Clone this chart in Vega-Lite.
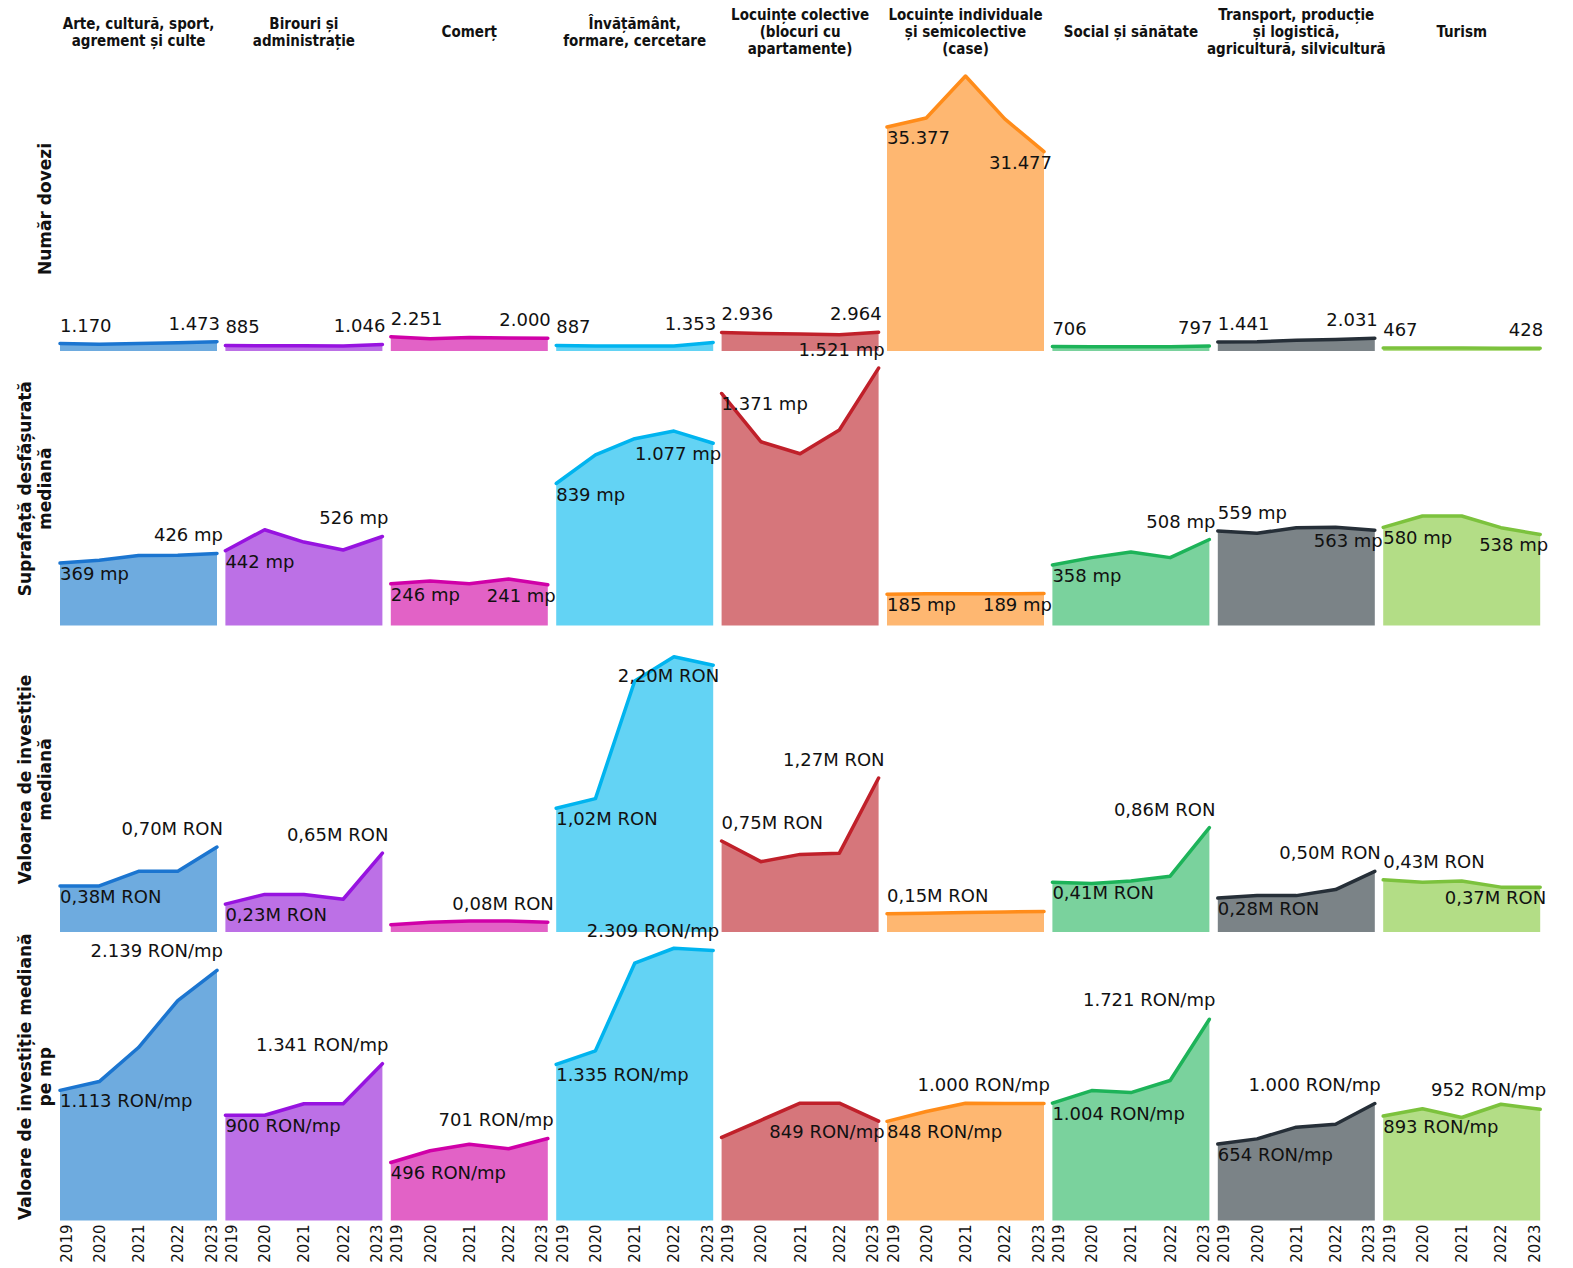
{
  "$schema": "https://vega.github.io/schema/vega-lite/v6.json",
  "background": "white",
  "padding": {"left": 15, "top": 8, "right": 5, "bottom": 0},
  "config": {
    "locale": {"number": {"decimal": ",", "thousands": ".", "grouping": [3], "currency": ["", ""]}},
    "view": {"stroke": null},
    "concat": {"spacing": -19.8},
    "facet": {"spacing": 8.4},
    "text": {"font": "DejaVu Sans", "fontSize": 18, "color": "#111111"},
    "axis": {"titleFont": "DejaVu Sans", "titleFontWeight": "bold", "titleFontSize": 17, "titleColor": "#111111", "titleLineHeight": 20, "titlePadding": 6}
  },
  "resolve": {"scale": {"y": "independent", "x": "independent"}},
  "datasets": {
    "dovezi": [
      {"cat": "Arte, cultură, sport,\nagrement și culte", "year": 2019, "value": 1170},
      {"cat": "Arte, cultură, sport,\nagrement și culte", "year": 2020, "value": 1070},
      {"cat": "Arte, cultură, sport,\nagrement și culte", "year": 2021, "value": 1200},
      {"cat": "Arte, cultură, sport,\nagrement și culte", "year": 2022, "value": 1300},
      {"cat": "Arte, cultură, sport,\nagrement și culte", "year": 2023, "value": 1473},
      {"cat": "Birouri și\nadministrație", "year": 2019, "value": 885},
      {"cat": "Birouri și\nadministrație", "year": 2020, "value": 820},
      {"cat": "Birouri și\nadministrație", "year": 2021, "value": 820},
      {"cat": "Birouri și\nadministrație", "year": 2022, "value": 800},
      {"cat": "Birouri și\nadministrație", "year": 2023, "value": 1046},
      {"cat": "Comerț", "year": 2019, "value": 2251},
      {"cat": "Comerț", "year": 2020, "value": 1950},
      {"cat": "Comerț", "year": 2021, "value": 2150},
      {"cat": "Comerț", "year": 2022, "value": 2050},
      {"cat": "Comerț", "year": 2023, "value": 2000},
      {"cat": "Învățământ,\nformare, cercetare", "year": 2019, "value": 887},
      {"cat": "Învățământ,\nformare, cercetare", "year": 2020, "value": 800},
      {"cat": "Învățământ,\nformare, cercetare", "year": 2021, "value": 800},
      {"cat": "Învățământ,\nformare, cercetare", "year": 2022, "value": 780},
      {"cat": "Învățământ,\nformare, cercetare", "year": 2023, "value": 1353},
      {"cat": "Locuințe colective\n(blocuri cu\napartamente)", "year": 2019, "value": 2936},
      {"cat": "Locuințe colective\n(blocuri cu\napartamente)", "year": 2020, "value": 2750},
      {"cat": "Locuințe colective\n(blocuri cu\napartamente)", "year": 2021, "value": 2700},
      {"cat": "Locuințe colective\n(blocuri cu\napartamente)", "year": 2022, "value": 2550},
      {"cat": "Locuințe colective\n(blocuri cu\napartamente)", "year": 2023, "value": 2964},
      {"cat": "Locuințe individuale\nși semicolective\n(case)", "year": 2019, "value": 35377},
      {"cat": "Locuințe individuale\nși semicolective\n(case)", "year": 2020, "value": 36800},
      {"cat": "Locuințe individuale\nși semicolective\n(case)", "year": 2021, "value": 43430},
      {"cat": "Locuințe individuale\nși semicolective\n(case)", "year": 2022, "value": 36650},
      {"cat": "Locuințe individuale\nși semicolective\n(case)", "year": 2023, "value": 31477},
      {"cat": "Social și sănătate", "year": 2019, "value": 706},
      {"cat": "Social și sănătate", "year": 2020, "value": 680},
      {"cat": "Social și sănătate", "year": 2021, "value": 670},
      {"cat": "Social și sănătate", "year": 2022, "value": 680},
      {"cat": "Social și sănătate", "year": 2023, "value": 797},
      {"cat": "Transport, producție\nși logistică,\nagricultură, silvicultură", "year": 2019, "value": 1441},
      {"cat": "Transport, producție\nși logistică,\nagricultură, silvicultură", "year": 2020, "value": 1450},
      {"cat": "Transport, producție\nși logistică,\nagricultură, silvicultură", "year": 2021, "value": 1700},
      {"cat": "Transport, producție\nși logistică,\nagricultură, silvicultură", "year": 2022, "value": 1800},
      {"cat": "Transport, producție\nși logistică,\nagricultură, silvicultură", "year": 2023, "value": 2031},
      {"cat": "Turism", "year": 2019, "value": 467},
      {"cat": "Turism", "year": 2020, "value": 460},
      {"cat": "Turism", "year": 2021, "value": 480},
      {"cat": "Turism", "year": 2022, "value": 450},
      {"cat": "Turism", "year": 2023, "value": 428}
    ],
    "suprafata": [
      {"cat": "Arte, cultură, sport,\nagrement și culte", "year": 2019, "value": 369},
      {"cat": "Arte, cultură, sport,\nagrement și culte", "year": 2020, "value": 385},
      {"cat": "Arte, cultură, sport,\nagrement și culte", "year": 2021, "value": 413},
      {"cat": "Arte, cultură, sport,\nagrement și culte", "year": 2022, "value": 415},
      {"cat": "Arte, cultură, sport,\nagrement și culte", "year": 2023, "value": 426},
      {"cat": "Birouri și\nadministrație", "year": 2019, "value": 442},
      {"cat": "Birouri și\nadministrație", "year": 2020, "value": 566},
      {"cat": "Birouri și\nadministrație", "year": 2021, "value": 493},
      {"cat": "Birouri și\nadministrație", "year": 2022, "value": 446},
      {"cat": "Birouri și\nadministrație", "year": 2023, "value": 526},
      {"cat": "Comerț", "year": 2019, "value": 246},
      {"cat": "Comerț", "year": 2020, "value": 263},
      {"cat": "Comerț", "year": 2021, "value": 247},
      {"cat": "Comerț", "year": 2022, "value": 275},
      {"cat": "Comerț", "year": 2023, "value": 241},
      {"cat": "Învățământ,\nformare, cercetare", "year": 2019, "value": 839},
      {"cat": "Învățământ,\nformare, cercetare", "year": 2020, "value": 1008},
      {"cat": "Învățământ,\nformare, cercetare", "year": 2021, "value": 1104},
      {"cat": "Învățământ,\nformare, cercetare", "year": 2022, "value": 1149},
      {"cat": "Învățământ,\nformare, cercetare", "year": 2023, "value": 1077},
      {"cat": "Locuințe colective\n(blocuri cu\napartamente)", "year": 2019, "value": 1371},
      {"cat": "Locuințe colective\n(blocuri cu\napartamente)", "year": 2020, "value": 1086},
      {"cat": "Locuințe colective\n(blocuri cu\napartamente)", "year": 2021, "value": 1015},
      {"cat": "Locuințe colective\n(blocuri cu\napartamente)", "year": 2022, "value": 1155},
      {"cat": "Locuințe colective\n(blocuri cu\napartamente)", "year": 2023, "value": 1521},
      {"cat": "Locuințe individuale\nși semicolective\n(case)", "year": 2019, "value": 185},
      {"cat": "Locuințe individuale\nși semicolective\n(case)", "year": 2020, "value": 187},
      {"cat": "Locuințe individuale\nși semicolective\n(case)", "year": 2021, "value": 187},
      {"cat": "Locuințe individuale\nși semicolective\n(case)", "year": 2022, "value": 188},
      {"cat": "Locuințe individuale\nși semicolective\n(case)", "year": 2023, "value": 189},
      {"cat": "Social și sănătate", "year": 2019, "value": 358},
      {"cat": "Social și sănătate", "year": 2020, "value": 401},
      {"cat": "Social și sănătate", "year": 2021, "value": 434},
      {"cat": "Social și sănătate", "year": 2022, "value": 401},
      {"cat": "Social și sănătate", "year": 2023, "value": 508},
      {"cat": "Transport, producție\nși logistică,\nagricultură, silvicultură", "year": 2019, "value": 559},
      {"cat": "Transport, producție\nși logistică,\nagricultură, silvicultură", "year": 2020, "value": 545},
      {"cat": "Transport, producție\nși logistică,\nagricultură, silvicultură", "year": 2021, "value": 578},
      {"cat": "Transport, producție\nși logistică,\nagricultură, silvicultură", "year": 2022, "value": 580},
      {"cat": "Transport, producție\nși logistică,\nagricultură, silvicultură", "year": 2023, "value": 563},
      {"cat": "Turism", "year": 2019, "value": 580},
      {"cat": "Turism", "year": 2020, "value": 647},
      {"cat": "Turism", "year": 2021, "value": 647},
      {"cat": "Turism", "year": 2022, "value": 578},
      {"cat": "Turism", "year": 2023, "value": 538}
    ],
    "valoare": [
      {"cat": "Arte, cultură, sport,\nagrement și culte", "year": 2019, "value": 0.38},
      {"cat": "Arte, cultură, sport,\nagrement și culte", "year": 2020, "value": 0.38},
      {"cat": "Arte, cultură, sport,\nagrement și culte", "year": 2021, "value": 0.50},
      {"cat": "Arte, cultură, sport,\nagrement și culte", "year": 2022, "value": 0.50},
      {"cat": "Arte, cultură, sport,\nagrement și culte", "year": 2023, "value": 0.70},
      {"cat": "Birouri și\nadministrație", "year": 2019, "value": 0.23},
      {"cat": "Birouri și\nadministrație", "year": 2020, "value": 0.31},
      {"cat": "Birouri și\nadministrație", "year": 2021, "value": 0.31},
      {"cat": "Birouri și\nadministrație", "year": 2022, "value": 0.27},
      {"cat": "Birouri și\nadministrație", "year": 2023, "value": 0.65},
      {"cat": "Comerț", "year": 2019, "value": 0.06},
      {"cat": "Comerț", "year": 2020, "value": 0.08},
      {"cat": "Comerț", "year": 2021, "value": 0.09},
      {"cat": "Comerț", "year": 2022, "value": 0.09},
      {"cat": "Comerț", "year": 2023, "value": 0.08},
      {"cat": "Învățământ,\nformare, cercetare", "year": 2019, "value": 1.02},
      {"cat": "Învățământ,\nformare, cercetare", "year": 2020, "value": 1.10},
      {"cat": "Învățământ,\nformare, cercetare", "year": 2021, "value": 2.07},
      {"cat": "Învățământ,\nformare, cercetare", "year": 2022, "value": 2.27},
      {"cat": "Învățământ,\nformare, cercetare", "year": 2023, "value": 2.20},
      {"cat": "Locuințe colective\n(blocuri cu\napartamente)", "year": 2019, "value": 0.75},
      {"cat": "Locuințe colective\n(blocuri cu\napartamente)", "year": 2020, "value": 0.58},
      {"cat": "Locuințe colective\n(blocuri cu\napartamente)", "year": 2021, "value": 0.64},
      {"cat": "Locuințe colective\n(blocuri cu\napartamente)", "year": 2022, "value": 0.65},
      {"cat": "Locuințe colective\n(blocuri cu\napartamente)", "year": 2023, "value": 1.27},
      {"cat": "Locuințe individuale\nși semicolective\n(case)", "year": 2019, "value": 0.15},
      {"cat": "Locuințe individuale\nși semicolective\n(case)", "year": 2020, "value": 0.155},
      {"cat": "Locuințe individuale\nși semicolective\n(case)", "year": 2021, "value": 0.16},
      {"cat": "Locuințe individuale\nși semicolective\n(case)", "year": 2022, "value": 0.165},
      {"cat": "Locuințe individuale\nși semicolective\n(case)", "year": 2023, "value": 0.17},
      {"cat": "Social și sănătate", "year": 2019, "value": 0.41},
      {"cat": "Social și sănătate", "year": 2020, "value": 0.40},
      {"cat": "Social și sănătate", "year": 2021, "value": 0.42},
      {"cat": "Social și sănătate", "year": 2022, "value": 0.46},
      {"cat": "Social și sănătate", "year": 2023, "value": 0.86},
      {"cat": "Transport, producție\nși logistică,\nagricultură, silvicultură", "year": 2019, "value": 0.28},
      {"cat": "Transport, producție\nși logistică,\nagricultură, silvicultură", "year": 2020, "value": 0.30},
      {"cat": "Transport, producție\nși logistică,\nagricultură, silvicultură", "year": 2021, "value": 0.30},
      {"cat": "Transport, producție\nși logistică,\nagricultură, silvicultură", "year": 2022, "value": 0.35},
      {"cat": "Transport, producție\nși logistică,\nagricultură, silvicultură", "year": 2023, "value": 0.50},
      {"cat": "Turism", "year": 2019, "value": 0.43},
      {"cat": "Turism", "year": 2020, "value": 0.41},
      {"cat": "Turism", "year": 2021, "value": 0.42},
      {"cat": "Turism", "year": 2022, "value": 0.37},
      {"cat": "Turism", "year": 2023, "value": 0.37}
    ],
    "pemp": [
      {"cat": "Arte, cultură, sport,\nagrement și culte", "year": 2019, "value": 1113},
      {"cat": "Arte, cultură, sport,\nagrement și culte", "year": 2020, "value": 1188},
      {"cat": "Arte, cultură, sport,\nagrement și culte", "year": 2021, "value": 1479},
      {"cat": "Arte, cultură, sport,\nagrement și culte", "year": 2022, "value": 1881},
      {"cat": "Arte, cultură, sport,\nagrement și culte", "year": 2023, "value": 2139},
      {"cat": "Birouri și\nadministrație", "year": 2019, "value": 900},
      {"cat": "Birouri și\nadministrație", "year": 2020, "value": 900},
      {"cat": "Birouri și\nadministrație", "year": 2021, "value": 998},
      {"cat": "Birouri și\nadministrație", "year": 2022, "value": 998},
      {"cat": "Birouri și\nadministrație", "year": 2023, "value": 1341},
      {"cat": "Comerț", "year": 2019, "value": 496},
      {"cat": "Comerț", "year": 2020, "value": 596},
      {"cat": "Comerț", "year": 2021, "value": 652},
      {"cat": "Comerț", "year": 2022, "value": 613},
      {"cat": "Comerț", "year": 2023, "value": 701},
      {"cat": "Învățământ,\nformare, cercetare", "year": 2019, "value": 1335},
      {"cat": "Învățământ,\nformare, cercetare", "year": 2020, "value": 1451},
      {"cat": "Învățământ,\nformare, cercetare", "year": 2021, "value": 2200},
      {"cat": "Învățământ,\nformare, cercetare", "year": 2022, "value": 2328},
      {"cat": "Învățământ,\nformare, cercetare", "year": 2023, "value": 2309},
      {"cat": "Locuințe colective\n(blocuri cu\napartamente)", "year": 2019, "value": 710},
      {"cat": "Locuințe colective\n(blocuri cu\napartamente)", "year": 2020, "value": 857},
      {"cat": "Locuințe colective\n(blocuri cu\napartamente)", "year": 2021, "value": 1003},
      {"cat": "Locuințe colective\n(blocuri cu\napartamente)", "year": 2022, "value": 1003},
      {"cat": "Locuințe colective\n(blocuri cu\napartamente)", "year": 2023, "value": 849},
      {"cat": "Locuințe individuale\nși semicolective\n(case)", "year": 2019, "value": 848},
      {"cat": "Locuințe individuale\nși semicolective\n(case)", "year": 2020, "value": 932},
      {"cat": "Locuințe individuale\nși semicolective\n(case)", "year": 2021, "value": 1002},
      {"cat": "Locuințe individuale\nși semicolective\n(case)", "year": 2022, "value": 1000},
      {"cat": "Locuințe individuale\nși semicolective\n(case)", "year": 2023, "value": 1000},
      {"cat": "Social și sănătate", "year": 2019, "value": 1004},
      {"cat": "Social și sănătate", "year": 2020, "value": 1111},
      {"cat": "Social și sănătate", "year": 2021, "value": 1094},
      {"cat": "Social și sănătate", "year": 2022, "value": 1197},
      {"cat": "Social și sănătate", "year": 2023, "value": 1721},
      {"cat": "Transport, producție\nși logistică,\nagricultură, silvicultură", "year": 2019, "value": 654},
      {"cat": "Transport, producție\nși logistică,\nagricultură, silvicultură", "year": 2020, "value": 698},
      {"cat": "Transport, producție\nși logistică,\nagricultură, silvicultură", "year": 2021, "value": 798},
      {"cat": "Transport, producție\nși logistică,\nagricultură, silvicultură", "year": 2022, "value": 823},
      {"cat": "Transport, producție\nși logistică,\nagricultură, silvicultură", "year": 2023, "value": 1000},
      {"cat": "Turism", "year": 2019, "value": 893},
      {"cat": "Turism", "year": 2020, "value": 955},
      {"cat": "Turism", "year": 2021, "value": 881},
      {"cat": "Turism", "year": 2022, "value": 994},
      {"cat": "Turism", "year": 2023, "value": 952}
    ]
  },
  "vconcat": [
    {
      "data": {"name": "dovezi"},
      "bounds": "flush",
      "transform": [{"calculate": "format(datum.value, ',.0f')", "as": "lbl"}],
      "facet": {"column": {"field": "cat", "type": "nominal", "title": null,
        "sort": ["Arte, cultură, sport,\nagrement și culte", "Birouri și\nadministrație", "Comerț", "Învățământ,\nformare, cercetare", "Locuințe colective\n(blocuri cu\napartamente)", "Locuințe individuale\nși semicolective\n(case)", "Social și sănătate", "Transport, producție\nși logistică,\nagricultură, silvicultură", "Turism"],
        "header": {"title": null, "labelOrient": "top", "labelFont": "DejaVu Sans Condensed", "labelFontWeight": "bold", "labelFontSize": 15, "labelColor": "#111111",
          "labelExpr": "split((length(split(datum.value, '\\n')) == 3 ? '' : length(split(datum.value, '\\n')) == 2 ? '\u2800\\n' : '\u2800\\n\u2800\\n') + replace(datum.value, /\\n/g, '\\n\u2800\\n') + (length(split(datum.value, '\\n')) == 3 ? '' : length(split(datum.value, '\\n')) == 2 ? '\\n\u2800' : '\\n\u2800\\n\u2800'), '\\n')",
          "labelLineHeight": 8.5, "labelPadding": 9}}},
      "spec": {
        "width": 157, "height": 285,
        "encoding": {
          "x": {"field": "year", "type": "quantitative", "scale": {"domain": [2019, 2023], "nice": false, "zero": false}, "axis": null},
          "y": {"field": "value", "type": "quantitative", "scale": {"domain": [0, 45010], "nice": false}, "axis": {"title": "Număr dovezi", "labels": false, "ticks": false, "domain": false, "grid": false}}
        },
        "layer": [
          {"mark": {"type": "area", "opacity": 1}, "encoding": {"fill": {"field": "cat", "type": "nominal", "legend": null, "scale": {"domain": ["Arte, cultură, sport,\nagrement și culte", "Birouri și\nadministrație", "Comerț", "Învățământ,\nformare, cercetare", "Locuințe colective\n(blocuri cu\napartamente)", "Locuințe individuale\nși semicolective\n(case)", "Social și sănătate", "Transport, producție\nși logistică,\nagricultură, silvicultură", "Turism"], "range": ["#6eabdf", "#bc70e6", "#e262c6", "#63d3f4", "#d6767b", "#feb771", "#7ad29d", "#7b8387", "#b3dd86"]}}}},
          {"mark": {"type": "line", "strokeWidth": 3.5, "strokeCap": "round", "strokeJoin": "round"}, "encoding": {"stroke": {"field": "cat", "type": "nominal", "legend": null, "scale": {"domain": ["Arte, cultură, sport,\nagrement și culte", "Birouri și\nadministrație", "Comerț", "Învățământ,\nformare, cercetare", "Locuințe colective\n(blocuri cu\napartamente)", "Locuințe individuale\nși semicolective\n(case)", "Social și sănătate", "Transport, producție\nși logistică,\nagricultură, silvicultură", "Turism"], "range": ["#1b75d0", "#9713e0", "#d000a8", "#00b4ef", "#c0202a", "#ff8c1a", "#1db359", "#262f38", "#7cc23d"]}}}},
          {"transform": [{"filter": "datum.year == 2019 && !test(/^Locuințe ind/, datum.cat)"}], "mark": {"type": "text", "align": "left", "baseline": "alphabetic", "dy": -12}, "encoding": {"text": {"field": "lbl"}}},
          {"transform": [{"filter": "datum.year == 2019 && test(/^Locuințe ind/, datum.cat)"}], "mark": {"type": "text", "align": "left", "baseline": "top", "dy": 3}, "encoding": {"text": {"field": "lbl"}}},
          {"transform": [{"filter": "datum.year == 2023 && !test(/^Locuințe ind/, datum.cat)"}], "mark": {"type": "text", "align": "right", "baseline": "alphabetic", "dx": 3, "dy": -12}, "encoding": {"text": {"field": "lbl"}}},
          {"transform": [{"filter": "datum.year == 2023 && test(/^Locuințe ind/, datum.cat)"}], "mark": {"type": "text", "align": "right", "baseline": "top", "dx": 8, "dy": 3}, "encoding": {"text": {"field": "lbl"}}}
        ]
      }
    },
    {
      "data": {"name": "suprafata"},
      "bounds": "flush",
      "transform": [{"calculate": "format(datum.value, ',.0f') + ' mp'", "as": "lbl"}],
      "facet": {"column": {"field": "cat", "type": "nominal", "title": null,
        "sort": ["Arte, cultură, sport,\nagrement și culte", "Birouri și\nadministrație", "Comerț", "Învățământ,\nformare, cercetare", "Locuințe colective\n(blocuri cu\napartamente)", "Locuințe individuale\nși semicolective\n(case)", "Social și sănătate", "Transport, producție\nși logistică,\nagricultură, silvicultură", "Turism"],
        "header": {"title": null, "labels": false}}},
      "spec": {
        "width": 157, "height": 274.5,
        "encoding": {
          "x": {"field": "year", "type": "quantitative", "scale": {"domain": [2019, 2023], "nice": false, "zero": false}, "axis": null},
          "y": {"field": "value", "type": "quantitative", "scale": {"domain": [0, 1622], "nice": false}, "axis": {"title": ["Suprafață desfășurată", "mediană"], "labels": false, "ticks": false, "domain": false, "grid": false}}
        },
        "layer": [
          {"mark": {"type": "area", "opacity": 1}, "encoding": {"fill": {"field": "cat", "type": "nominal", "legend": null, "scale": {"domain": ["Arte, cultură, sport,\nagrement și culte", "Birouri și\nadministrație", "Comerț", "Învățământ,\nformare, cercetare", "Locuințe colective\n(blocuri cu\napartamente)", "Locuințe individuale\nși semicolective\n(case)", "Social și sănătate", "Transport, producție\nși logistică,\nagricultură, silvicultură", "Turism"], "range": ["#6eabdf", "#bc70e6", "#e262c6", "#63d3f4", "#d6767b", "#feb771", "#7ad29d", "#7b8387", "#b3dd86"]}}}},
          {"mark": {"type": "line", "strokeWidth": 3.5, "strokeCap": "round", "strokeJoin": "round"}, "encoding": {"stroke": {"field": "cat", "type": "nominal", "legend": null, "scale": {"domain": ["Arte, cultură, sport,\nagrement și culte", "Birouri și\nadministrație", "Comerț", "Învățământ,\nformare, cercetare", "Locuințe colective\n(blocuri cu\napartamente)", "Locuințe individuale\nși semicolective\n(case)", "Social și sănătate", "Transport, producție\nși logistică,\nagricultură, silvicultură", "Turism"], "range": ["#1b75d0", "#9713e0", "#d000a8", "#00b4ef", "#c0202a", "#ff8c1a", "#1db359", "#262f38", "#7cc23d"]}}}},
          {"transform": [{"filter": "datum.year == 2019 && test(/^Tra/, datum.cat)"}], "mark": {"type": "text", "align": "left", "baseline": "alphabetic", "dy": -12}, "encoding": {"text": {"field": "lbl"}}},
          {"transform": [{"filter": "datum.year == 2019 && !test(/^Tra/, datum.cat)"}], "mark": {"type": "text", "align": "left", "baseline": "top", "dy": 3}, "encoding": {"text": {"field": "lbl"}}},
          {"transform": [{"filter": "datum.year == 2023 && test(/^(Arte|Bir|Locuințe col|Soc)/, datum.cat)"}], "mark": {"type": "text", "align": "right", "baseline": "alphabetic", "dx": 6, "dy": -12}, "encoding": {"text": {"field": "lbl"}}},
          {"transform": [{"filter": "datum.year == 2023 && !test(/^(Arte|Bir|Locuințe col|Soc)/, datum.cat)"}], "mark": {"type": "text", "align": "right", "baseline": "top", "dx": 8, "dy": 3}, "encoding": {"text": {"field": "lbl"}}}
        ]
      }
    },
    {
      "data": {"name": "valoare"},
      "bounds": "flush",
      "transform": [{"calculate": "format(datum.value, '.2f') + 'M RON'", "as": "lbl"}],
      "facet": {"column": {"field": "cat", "type": "nominal", "title": null,
        "sort": ["Arte, cultură, sport,\nagrement și culte", "Birouri și\nadministrație", "Comerț", "Învățământ,\nformare, cercetare", "Locuințe colective\n(blocuri cu\napartamente)", "Locuințe individuale\nși semicolective\n(case)", "Social și sănătate", "Transport, producție\nși logistică,\nagricultură, silvicultură", "Turism"],
        "header": {"title": null, "labels": false}}},
      "spec": {
        "width": 157, "height": 306,
        "encoding": {
          "x": {"field": "year", "type": "quantitative", "scale": {"domain": [2019, 2023], "nice": false, "zero": false}, "axis": null},
          "y": {"field": "value", "type": "quantitative", "scale": {"domain": [0, 2.523], "nice": false}, "axis": {"title": ["Valoarea de investiție", "mediană"], "labels": false, "ticks": false, "domain": false, "grid": false}}
        },
        "layer": [
          {"mark": {"type": "area", "opacity": 1}, "encoding": {"fill": {"field": "cat", "type": "nominal", "legend": null, "scale": {"domain": ["Arte, cultură, sport,\nagrement și culte", "Birouri și\nadministrație", "Comerț", "Învățământ,\nformare, cercetare", "Locuințe colective\n(blocuri cu\napartamente)", "Locuințe individuale\nși semicolective\n(case)", "Social și sănătate", "Transport, producție\nși logistică,\nagricultură, silvicultură", "Turism"], "range": ["#6eabdf", "#bc70e6", "#e262c6", "#63d3f4", "#d6767b", "#feb771", "#7ad29d", "#7b8387", "#b3dd86"]}}}},
          {"mark": {"type": "line", "strokeWidth": 3.5, "strokeCap": "round", "strokeJoin": "round"}, "encoding": {"stroke": {"field": "cat", "type": "nominal", "legend": null, "scale": {"domain": ["Arte, cultură, sport,\nagrement și culte", "Birouri și\nadministrație", "Comerț", "Învățământ,\nformare, cercetare", "Locuințe colective\n(blocuri cu\napartamente)", "Locuințe individuale\nși semicolective\n(case)", "Social și sănătate", "Transport, producție\nși logistică,\nagricultură, silvicultură", "Turism"], "range": ["#1b75d0", "#9713e0", "#d000a8", "#00b4ef", "#c0202a", "#ff8c1a", "#1db359", "#262f38", "#7cc23d"]}}}},
          {"transform": [{"filter": "datum.year == 2019 && test(/^(Locuințe|Tur)/, datum.cat)"}], "mark": {"type": "text", "align": "left", "baseline": "alphabetic", "dy": -12}, "encoding": {"text": {"field": "lbl"}}},
          {"transform": [{"filter": "datum.year == 2019 && test(/^(Arte|Bir|Înv|Soc|Tra)/, datum.cat)"}], "mark": {"type": "text", "align": "left", "baseline": "top", "dy": 3}, "encoding": {"text": {"field": "lbl"}}},
          {"transform": [{"filter": "datum.year == 2023 && test(/^(Arte|Bir|Com|Locuințe col|Soc|Tra)/, datum.cat)"}], "mark": {"type": "text", "align": "right", "baseline": "alphabetic", "dx": 6, "dy": -12}, "encoding": {"text": {"field": "lbl"}}},
          {"transform": [{"filter": "datum.year == 2023 && test(/^(Înv|Tur)/, datum.cat)"}], "mark": {"type": "text", "align": "right", "baseline": "top", "dx": 6, "dy": 3}, "encoding": {"text": {"field": "lbl"}}}
        ]
      }
    },
    {
      "data": {"name": "pemp"},
      "bounds": "flush",
      "transform": [{"calculate": "format(datum.value, ',.0f') + ' RON/mp'", "as": "lbl"}],
      "facet": {"column": {"field": "cat", "type": "nominal", "title": null,
        "sort": ["Arte, cultură, sport,\nagrement și culte", "Birouri și\nadministrație", "Comerț", "Învățământ,\nformare, cercetare", "Locuințe colective\n(blocuri cu\napartamente)", "Locuințe individuale\nși semicolective\n(case)", "Social și sănătate", "Transport, producție\nși logistică,\nagricultură, silvicultură", "Turism"],
        "header": {"title": null, "labels": false}}},
      "spec": {
        "width": 157, "height": 288.5,
        "encoding": {
          "x": {"field": "year", "type": "quantitative", "scale": {"domain": [2019, 2023], "nice": false, "zero": false},
            "axis": {"title": null, "values": [2019, 2020, 2021, 2022, 2023], "format": "d", "labelAngle": -90, "ticks": false, "domain": false, "grid": false, "labelFont": "DejaVu Sans", "labelFontSize": 15, "labelColor": "#111111", "labelPadding": 3, "labelOverlap": false,
              "labelOffset": {"condition": [{"test": "datum.value == 2019", "value": 6}, {"test": "datum.value == 2023", "value": -6}], "value": 0}}},
          "y": {"field": "value", "type": "quantitative", "scale": {"domain": [0, 2467], "nice": false}, "axis": {"title": ["Valoare de investiție mediană", "pe mp"], "labels": false, "ticks": false, "domain": false, "grid": false}}
        },
        "layer": [
          {"mark": {"type": "area", "opacity": 1}, "encoding": {"fill": {"field": "cat", "type": "nominal", "legend": null, "scale": {"domain": ["Arte, cultură, sport,\nagrement și culte", "Birouri și\nadministrație", "Comerț", "Învățământ,\nformare, cercetare", "Locuințe colective\n(blocuri cu\napartamente)", "Locuințe individuale\nși semicolective\n(case)", "Social și sănătate", "Transport, producție\nși logistică,\nagricultură, silvicultură", "Turism"], "range": ["#6eabdf", "#bc70e6", "#e262c6", "#63d3f4", "#d6767b", "#feb771", "#7ad29d", "#7b8387", "#b3dd86"]}}}},
          {"mark": {"type": "line", "strokeWidth": 3.5, "strokeCap": "round", "strokeJoin": "round"}, "encoding": {"stroke": {"field": "cat", "type": "nominal", "legend": null, "scale": {"domain": ["Arte, cultură, sport,\nagrement și culte", "Birouri și\nadministrație", "Comerț", "Învățământ,\nformare, cercetare", "Locuințe colective\n(blocuri cu\napartamente)", "Locuințe individuale\nși semicolective\n(case)", "Social și sănătate", "Transport, producție\nși logistică,\nagricultură, silvicultură", "Turism"], "range": ["#1b75d0", "#9713e0", "#d000a8", "#00b4ef", "#c0202a", "#ff8c1a", "#1db359", "#262f38", "#7cc23d"]}}}},
          {"transform": [{"filter": "datum.year == 2019 && !test(/^Locuințe col/, datum.cat)"}], "mark": {"type": "text", "align": "left", "baseline": "top", "dy": 3}, "encoding": {"text": {"field": "lbl"}}},
          {"transform": [{"filter": "datum.year == 2023 && !test(/^Locuințe col/, datum.cat)"}], "mark": {"type": "text", "align": "right", "baseline": "alphabetic", "dx": 6, "dy": -13}, "encoding": {"text": {"field": "lbl"}}},
          {"transform": [{"filter": "datum.year == 2023 && test(/^Locuințe col/, datum.cat)"}], "mark": {"type": "text", "align": "right", "baseline": "top", "dx": 6, "dy": 3}, "encoding": {"text": {"field": "lbl"}}}
        ]
      }
    }
  ]
}
